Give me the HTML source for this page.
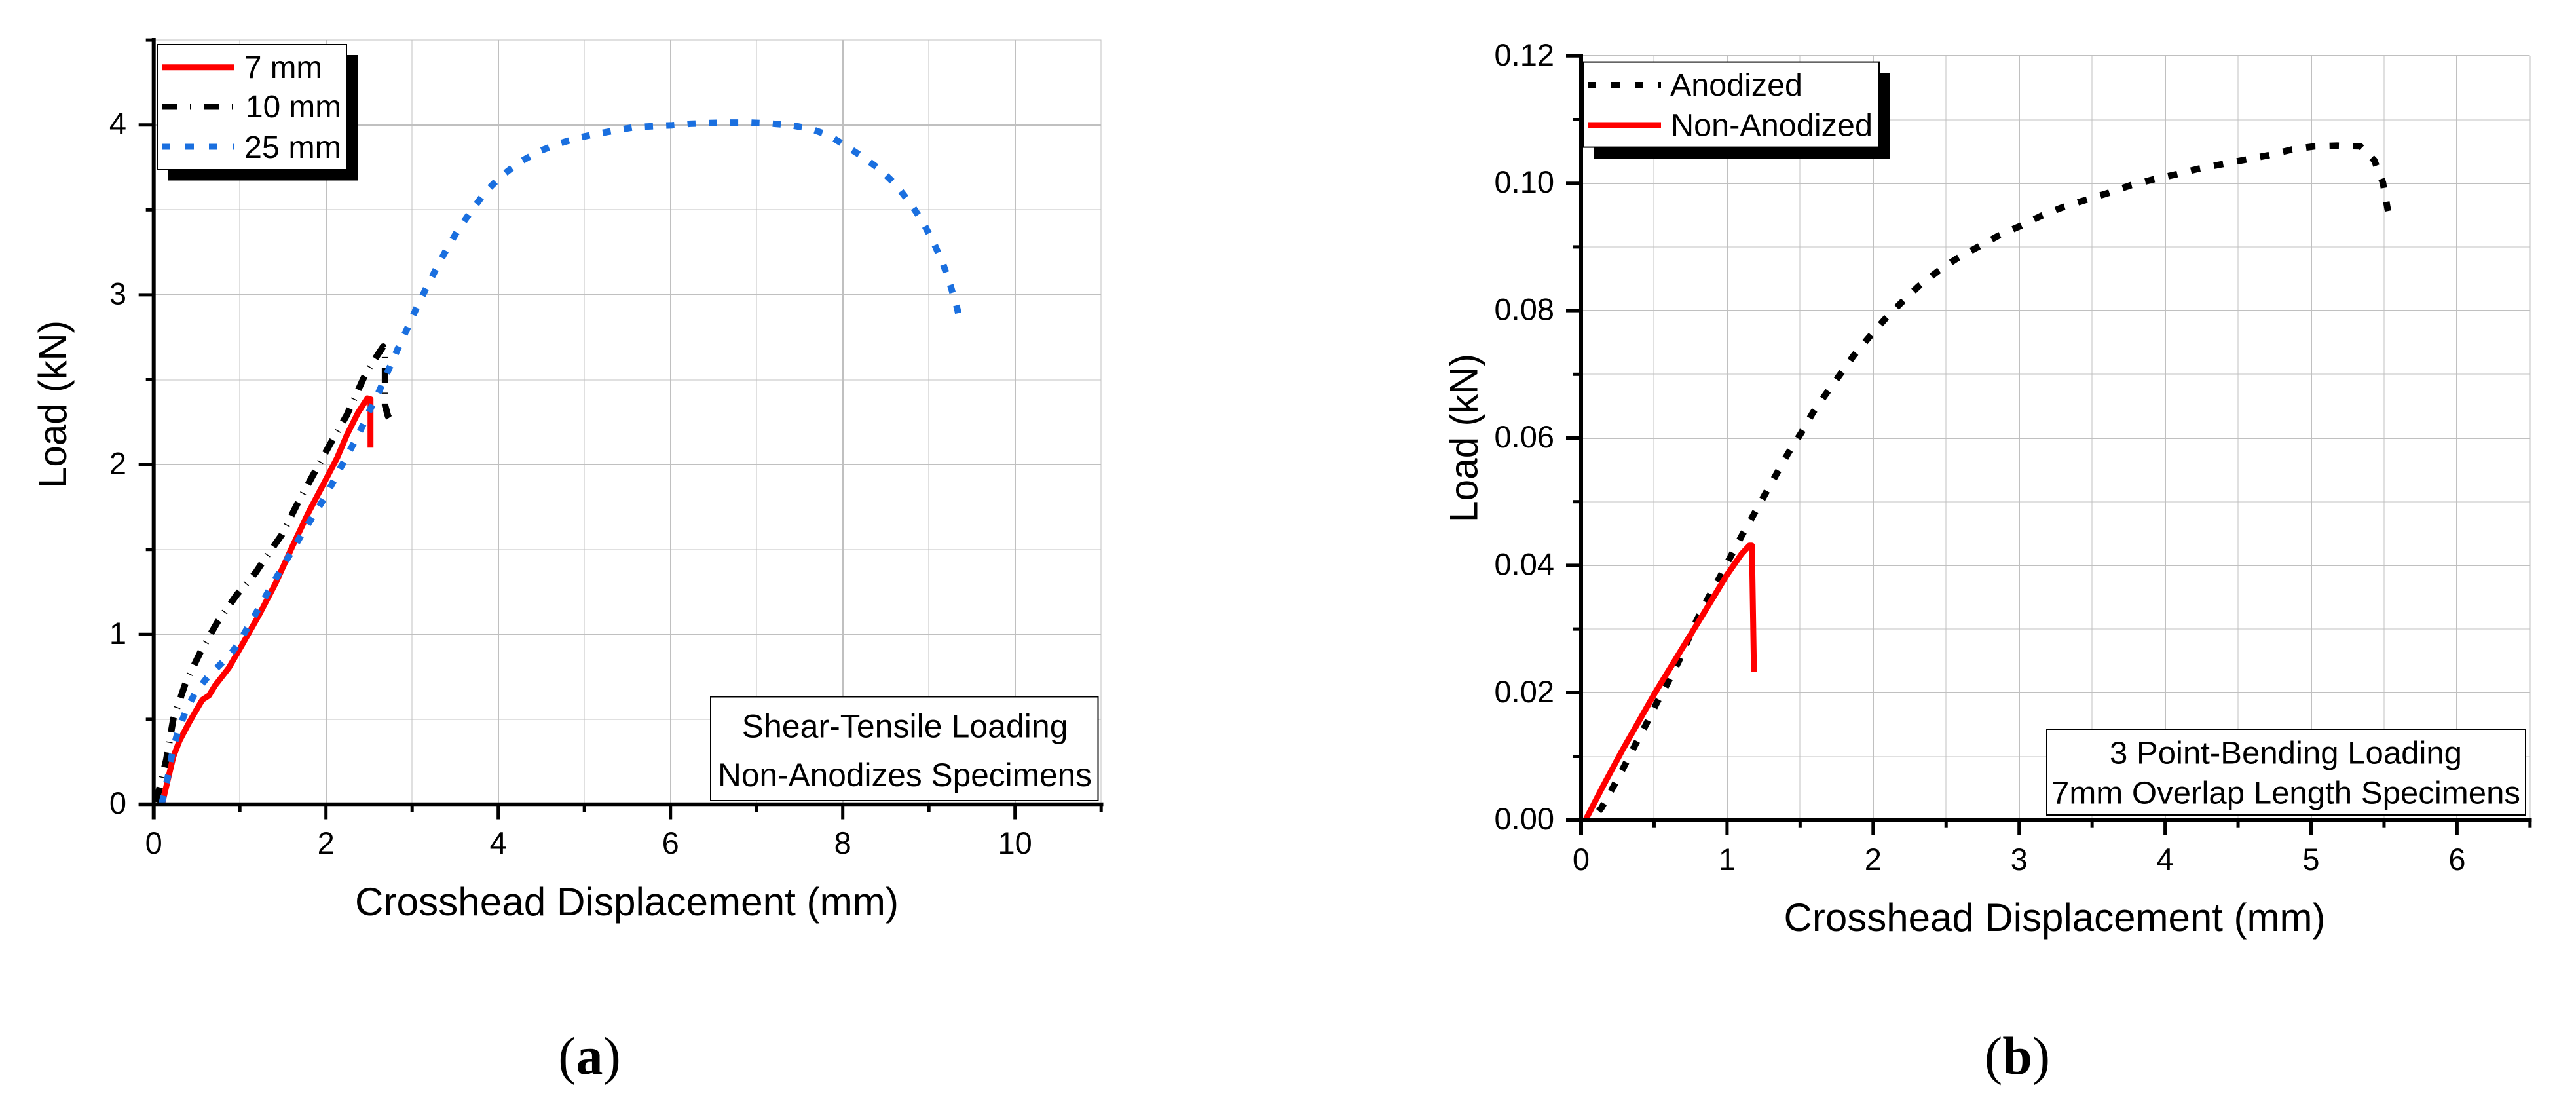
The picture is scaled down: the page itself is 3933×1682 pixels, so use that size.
<!DOCTYPE html>
<html lang="en">
<head>
<meta charset="utf-8">
<title>Load versus crosshead displacement charts</title>
<style>
html,body{margin:0;padding:0;background:#fff;}
svg{display:block;font-family:"Liberation Sans",Arial,sans-serif;}
</style>
</head>
<body>
<svg id="figure" xmlns="http://www.w3.org/2000/svg" width="3933" height="1682" viewBox="0 0 3933 1682">
  <rect x="0" y="0" width="3933" height="1682" fill="#fff"/>
  <g id="panel-a"></g>
  <g id="panel-b"></g>
  <text x="900" y="1639" text-anchor="middle" font-family="'Liberation Serif',serif" font-size="82" fill="#000">(<tspan font-weight="bold">a</tspan>)</text>
  <text x="3080" y="1639" text-anchor="middle" font-family="'Liberation Serif',serif" font-size="82" fill="#000">(<tspan font-weight="bold">b</tspan>)</text>
</svg>
<script>
// ---- Panel A data ----
const aXTicks = [0,1,2,3,4,5,6,7,8,9,10,11];
const aXLabels = ['0','','2','','4','','6','','8','','10',''];
const aYTicks = [0,0.5,1,1.5,2,2.5,3,3.5,4,4.5];
const aYLabels = ['0','','1','','2','','3','','4',''];

const mm7X = [0.097,0.154,0.228,0.299,0.405,0.494,0.565,0.641,0.713,0.786,0.873,1.029,1.222,1.417,1.61,1.805,1.95,2.13,2.246,2.372,2.48,2.517,2.517];
const mm7Y = [0,0.123,0.28,0.373,0.476,0.554,0.615,0.64,0.70,0.747,0.804,0.941,1.114,1.303,1.518,1.726,1.865,2.04,2.178,2.305,2.39,2.385,2.10];

const mm10X = [0.01,0.048,0.145,0.228,0.373,0.553,0.737,0.965,1.183,1.295,1.489,1.668,1.852,2.046,2.24,2.434,2.507,2.664,2.686,2.686,2.72,2.74];
const mm10Y = [0,0.055,0.26,0.503,0.718,0.907,1.07,1.234,1.364,1.449,1.588,1.769,1.94,2.118,2.29,2.506,2.575,2.695,2.65,2.35,2.285,2.27];

const mm25X = [0.09,0.106,0.17,0.218,0.284,0.383,0.485,0.63,0.786,0.922,1.036,1.149,1.261,1.377,1.513,1.645,1.756,1.877,2.01,2.132,2.25,2.375,2.504,2.614,2.725,2.831,2.945,3.044,3.162,3.268,3.402,3.538,3.698,3.858,4.025,4.23,4.459,4.664,4.908,5.116,5.344,5.584,6.021,6.23,6.458,6.685,6.918,7.154,7.402,7.636,7.843,8.04,8.238,8.436,8.618,8.778,8.922,9.052,9.166,9.253,9.331,9.345];
const mm25Y = [0,0.029,0.175,0.31,0.434,0.562,0.658,0.752,0.83,0.902,0.993,1.091,1.191,1.294,1.412,1.525,1.622,1.716,1.828,1.946,2.058,2.174,2.316,2.428,2.556,2.679,2.803,2.915,3.038,3.142,3.27,3.385,3.501,3.609,3.694,3.775,3.841,3.883,3.922,3.945,3.966,3.987,3.998,4.007,4.011,4.014,4.014,4.009,3.998,3.976,3.937,3.875,3.81,3.736,3.647,3.543,3.435,3.311,3.18,3.05,2.915,2.88];

// ---- Panel B data ----
const bXTicks = [0,0.5,1,1.5,2,2.5,3,3.5,4,4.5,5,5.5,6,6.5];
const bXLabels = ['0','','1','','2','','3','','4','','5','','6',''];
const bYTicks = [0,0.01,0.02,0.03,0.04,0.05,0.06,0.07,0.08,0.09,0.10,0.11,0.12];
const bYLabels = ['0.00','','0.02','','0.04','','0.06','','0.08','','0.10','','0.12'];

const anodizedX = [0.07,0.139,0.22,0.294,0.368,0.444,0.516,0.592,0.668,0.79,0.873,0.951,1.027,1.104,1.183,1.261,1.34,1.418,1.505,1.588,1.677,1.775,1.866,1.968,2.079,2.187,2.31,2.445,2.575,2.719,2.862,3.01,3.154,3.306,3.459,3.614,3.767,3.919,4.076,4.234,4.394,4.552,4.71,4.869,5.025,5.177,5.337,5.433,5.492,5.521,5.528];
const anodizedY = [0,0.0019,0.0052,0.0084,0.0117,0.015,0.0183,0.0215,0.0249,0.0313,0.035,0.0382,0.0415,0.0448,0.048,0.0512,0.0544,0.0576,0.0607,0.064,0.0669,0.07,0.0729,0.0757,0.0786,0.0811,0.0838,0.0862,0.0882,0.09,0.0918,0.0933,0.0949,0.0963,0.0974,0.0985,0.0997,0.1006,0.1014,0.1023,0.103,0.1037,0.1044,0.1053,0.1058,0.1059,0.1058,0.1036,0.1001,0.0964,0.0956];

const nonAnodizedX = [0.03,0.147,0.276,0.507,0.688,0.843,0.996,1.099,1.152,1.17,1.184];
const nonAnodizedY = [0,0.0052,0.0107,0.02,0.0268,0.0326,0.0384,0.0418,0.0431,0.0431,0.0233];

// ---- Drawing ----
const NS = 'http://www.w3.org/2000/svg';
const GRID = '#c0c0c0';

function make(parent, tag, attrs, txt) {
  const el = document.createElementNS(NS, tag);
  for (const k in attrs) el.setAttribute(k, attrs[k]);
  if (txt !== undefined) el.textContent = txt;
  parent.appendChild(el);
  return el;
}

function scaleX(p, v) { return p.x0 + (v - p.xMin) * p.xUnit; }
function scaleY(p, v) { return p.y0 - (v - p.yMin) * p.yUnit; }

function drawAxes(p, g, xTicks, xLabels, yTicks, yLabels) {
  xTicks.forEach(function (t, i) {
    const major = xLabels[i] !== '';
    const x = Math.round(scaleX(p, t));
    const line = make(g, 'line', {x1:x, x2:x, y1:p.yTop, y2:p.y0, stroke:GRID, 'stroke-width':major?2.4:1.4, 'shape-rendering':'crispEdges'});
    
    
  });
  yTicks.forEach(function (t, i) {
    const major = yLabels[i] !== '';
    const y = Math.round(scaleY(p, t));
    const line = make(g, 'line', {x1:p.x0, x2:p.xRight, y1:y, y2:y, stroke:GRID, 'stroke-width':major?2.4:1.4, 'shape-rendering':'crispEdges'});
    
    
  });
}

function drawAxisLines(p, g, xTicks, xLabels, yTicks, yLabels) {
  const yAxis = make(g, 'line', {x1:p.x0, x2:p.x0, y1:p.yTop-3, y2:p.y0+p.majorLen, stroke:'#000', 'stroke-width':6});
  
  
  const xAxis = make(g, 'line', {x1:p.x0-p.majorLen, x2:p.xRight+3, y1:p.y0, y2:p.y0, stroke:'#000', 'stroke-width':5.5});
  
  

  xTicks.forEach(function (t, i) {
    const major = xLabels[i] !== '';
    const x = scaleX(p, t);
    const tick = make(g, 'line', {x1:x, x2:x, y1:p.y0, y2:p.y0+(major?p.majorLen:p.minorLen), stroke:'#000', 'stroke-width':5});
    
    
    if (major) {
      const lab = make(g, 'text', {x:x, y:p.xLabelY, 'text-anchor':'middle', 'font-size':47, fill:'#000'}, xLabels[i]);
      
      
    }
  });
  yTicks.forEach(function (t, i) {
    const major = yLabels[i] !== '';
    const y = scaleY(p, t);
    const tick = make(g, 'line', {x1:p.x0-(major?p.majorLen:p.minorLen), x2:p.x0, y1:y, y2:y, stroke:'#000', 'stroke-width':5});
    
    
    if (major) {
      const lab = make(g, 'text', {x:p.yLabelX, y:y+14.5, 'text-anchor':'end', 'font-size':47, fill:'#000'}, yLabels[i]);
      
      
    }
  });
}

function drawSeries(p, g, xs, ys, color, style, name) {
  let d = '';
  xs.forEach(function (v, i) {
    d += (i ? 'L' : 'M') + scaleX(p, v).toFixed(1) + ' ' + scaleY(p, ys[i]).toFixed(1);
  });
  const attrs = {d:d, fill:'none', stroke:color, 'stroke-width':style ? 10 : 9, 'stroke-linejoin':'round'};
  if (style) {
    attrs['stroke-dasharray'] = style.dash;
    attrs['stroke-dashoffset'] = style.offset;
    if (style.length) attrs['pathLength'] = style.length;
  }
  const path = make(g, 'path', attrs);
  
  
}

function drawText(g, x, y, w, size, txt, name) {
  const t = make(g, 'text', {x:x, y:y, 'font-size':size, fill:'#000', textLength:w, lengthAdjust:'spacingAndGlyphs'}, txt);
  
  
}

function drawBox(g, x, y, w, h, name) {
  const b = make(g, 'rect', {x:x, y:y, width:w, height:h, fill:'#fff', stroke:'#000', 'stroke-width':2});
  
  
}

function drawShadow(g, x, y, w, h) {
  const s = make(g, 'rect', {x:x, y:y, width:w, height:h, fill:'#000'});
  
  
}

function drawLegendLine(g, x1, x2, y, color, dash, name) {
  const attrs = {x1:x1, x2:x2, y1:y, y2:y, stroke:color, 'stroke-width':9};
  if (dash) attrs['stroke-dasharray'] = dash;
  const l = make(g, 'line', attrs);
  
  
}

function drawTitles(g, xt, yt) {
  const t = make(g, 'text', {x:xt.x, y:xt.y, 'font-size':60, fill:'#000', textLength:xt.w, lengthAdjust:'spacingAndGlyphs'}, 'Crosshead Displacement (mm)');
  
  
  const v = make(g, 'text', {x:0, y:0, transform:'translate(' + yt.x + ' ' + yt.y + ') rotate(-90)', 'font-size':60, fill:'#000', textLength:yt.w, lengthAdjust:'spacingAndGlyphs'}, 'Load (kN)');
  
  
}

// Panel A
const pa = {x0:234.7, xMin:0, xUnit:131.5, y0:1227.5, yMin:0, yUnit:259.2, yTop:61, xRight:1681.5, majorLen:23, minorLen:12, xLabelY:1303, yLabelX:193};
const ga = document.getElementById('panel-a');
drawAxes(pa, ga, aXTicks, aXLabels, aYTicks, aYLabels);
drawSeries(pa, ga, mm10X, mm10Y, '#000', {dash:'23 15 1.5 15', offset:-4}, 'series-10-mm');
drawSeries(pa, ga, mm7X, mm7Y, '#ff0000', null, 'series-7-mm');
drawSeries(pa, ga, mm25X, mm25Y, '#1a6fdf', {dash:'0.38 0.62', offset:-0.03, length:60.5}, 'series-25-mm');
drawAxisLines(pa, ga, aXTicks, aXLabels, aYTicks, aYLabels);
drawTitles(ga, {x:542, y:1397, w:830}, {x:101, y:745, w:256});
drawShadow(ga, 257, 84, 290, 191.5);
drawBox(ga, 240, 68, 289, 191, 'legend-box');
drawLegendLine(ga, 247, 358, 102.7, '#ff0000', null, 'legend-line-7-mm');
drawText(ga, 373, 119, 119, 48, '7 mm', 'legend-label-7-mm');
drawLegendLine(ga, 247, 358, 163, '#000', '24 19 1.5 19.5', 'legend-line-10-mm');
drawText(ga, 375, 179, 146, 48, '10 mm', 'legend-label-10-mm');
drawLegendLine(ga, 247, 358, 224, '#1a6fdf', '13 23', 'legend-line-25-mm');
drawText(ga, 373, 241, 148, 48, '25 mm', 'legend-label-25-mm');
drawBox(ga, 1085, 1063.5, 591.5, 158.5, 'annotation-box');
drawText(ga, 1132.6, 1125.5, 498, 50, 'Shear-Tensile Loading', 'annotation-line-1');
drawText(ga, 1096, 1200, 571, 50, 'Non-Anodizes Specimens', 'annotation-line-2');

// Panel B
const pb = {x0:2414, xMin:0, xUnit:222.9, y0:1251.7, yMin:0, yUnit:9720, yTop:85.5, xRight:3862.5, majorLen:23, minorLen:12, xLabelY:1328, yLabelX:2373};
const gb = document.getElementById('panel-b');
drawAxes(pb, gb, bXTicks, bXLabels, bYTicks, bYLabels);
drawSeries(pb, gb, anodizedX, anodizedY, '#000', {dash:'0.4 0.6', offset:-0.49, length:49.9}, 'series-anodized');
drawSeries(pb, gb, nonAnodizedX, nonAnodizedY, '#ff0000', null, 'series-non-anodized');
drawAxisLines(pb, gb, bXTicks, bXLabels, bYTicks, bYLabels);
drawTitles(gb, {x:2723.5, y:1421, w:827}, {x:2255.7, y:797, w:257});
drawShadow(gb, 2434, 111.6, 451, 130.4);
drawBox(gb, 2418, 94.6, 451, 130, 'legend-box');
drawLegendLine(gb, 2424, 2536, 129.5, '#000', '13 23', 'legend-line-anodized');
drawText(gb, 2550, 146, 202, 48, 'Anodized', 'legend-label-anodized');
drawLegendLine(gb, 2424, 2536, 191, '#ff0000', null, 'legend-line-non-anodized');
drawText(gb, 2551, 207.6, 308, 48, 'Non-Anodized', 'legend-label-non-anodized');
drawBox(gb, 3125, 1113, 731, 131, 'annotation-box');
drawText(gb, 3221, 1165.5, 538, 48, '3 Point-Bending Loading', 'annotation-line-1');
drawText(gb, 3132, 1226.5, 716, 48, '7mm Overlap Length Specimens', 'annotation-line-2');
</script>
</body>
</html>
